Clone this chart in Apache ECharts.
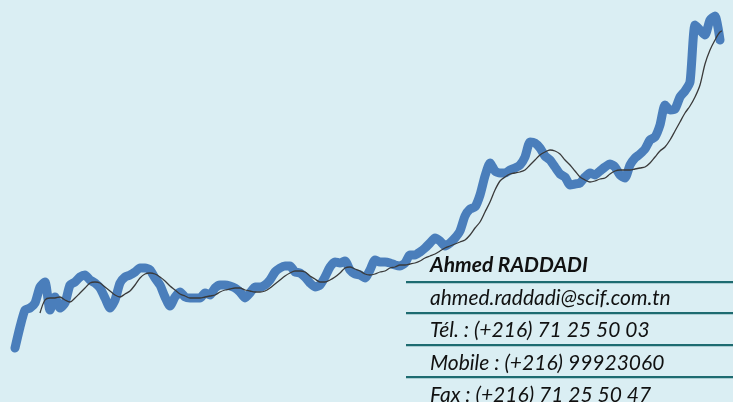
<!DOCTYPE html>
<html><head><meta charset="utf-8">
<script src="https://cdn.jsdelivr.net/npm/echarts@6/dist/echarts.min.js"></script>
<style>html,body{margin:0;padding:0;background:#DAEEF3}#c{width:733px;height:402px}</style>
</head><body><div id="c"></div>
<script>
// Index values (arbitrary index units)
const priceValues = [52,73,90,92,97,113,118,90,103,92,97,115,118,123,125,120,117,112,102,92,100,117,123,125,128,132,132,130,122,115,103,94,103,108,103,102,102,102,107,105,112,115,115,114,112,108,102,107,113,113,115,120,128,132,134,134,128,127,123,117,113,115,123,133,138,137,139,130,126,125,122,130,140,138,138,137,135,134,137,145,145,148,152,157,162,159,154,157,162,169,184,191,193,205,224,237,229,227,227,230,232,235,243,258,257,252,244,240,233,226,223,215,216,217,223,227,225,229,233,236,233,225,222,235,242,246,251,260,263,275,295,290,291,303,309,318,375,370,365,380,384,360];
const averageValues = [null,null,null,null,null,87,100,102,102,103,100,98,102,107,112,117,118,117,113,109,105,103,106,109,115,122,126,127,126,123,119,114,110,106,104,102,102,102,103,104,105,108,110,111,112,112,110,109,108,108,109,112,116,120,124,127,129,129,128,124,121,118,118,120,123,127,132,133,131,129,126,125,126,128,129,132,133,135,135,136,137,139,142,144,146,149,152,154,156,158,160,165,172,178,188,198,210,219,223,226,227,228,230,235,240,245,248,250,249,246,240,235,229,223,220,218,219,221,222,226,229,230,230,230,231,232,233,237,243,249,253,260,269,278,287,294,303,315,336,350,360,368,370];
const categories = priceValues.map((_, i) => String(i + 1));
const contactLines = ["Ahmed RADDADI","ahmed.raddadi@scif.com.tn","Tél. : (+216) 71 25 50 03","Mobile : (+216) 99923060","Fax : (+216) 71 25 50 47"];

const chart = echarts.init(document.getElementById('c'));
const font = 'Lato, "Open Sans", sans-serif';
const graphics = [];
const textY = [267, 300, 332, 365, 397];
contactLines.forEach((t, i) => {
  graphics.push({type:'text', left: 430, top: textY[i] - 12, z: 10,
    style:{text:t, font: (i===0?'italic bold ':'italic ') + '21px ' + font, fill:'#111', textVerticalAlign:'top'}});
});
[282, 313, 345, 377].forEach(y => {
  graphics.push({type:'rect', shape:{x:406, y:y-1, width:330, height:2.2}, style:{fill:'#1D6B70'}, z: 10});
});

chart.setOption({
  backgroundColor: '#DAEEF3',
  animation: false,
  grid: {left: 15, right: 13, top: 0, bottom: 2},
  xAxis: {type:'category', data: categories, boundaryGap:false, show:false},
  yAxis: {type:'value', min: 0, max: 400, show:false},
  series: [
    {type:'line', data: priceValues, showSymbol:false, smooth:0.2,
     lineStyle:{color:'#4A7EBB', width:9, cap:'round', join:'round'}, z:2},
    {type:'line', data: averageValues, showSymbol:false, smooth:0.3,
     lineStyle:{color:'#3a3a3a', width:1.3}, z:3}
  ],
  graphic: graphics
});
</script></body></html>
